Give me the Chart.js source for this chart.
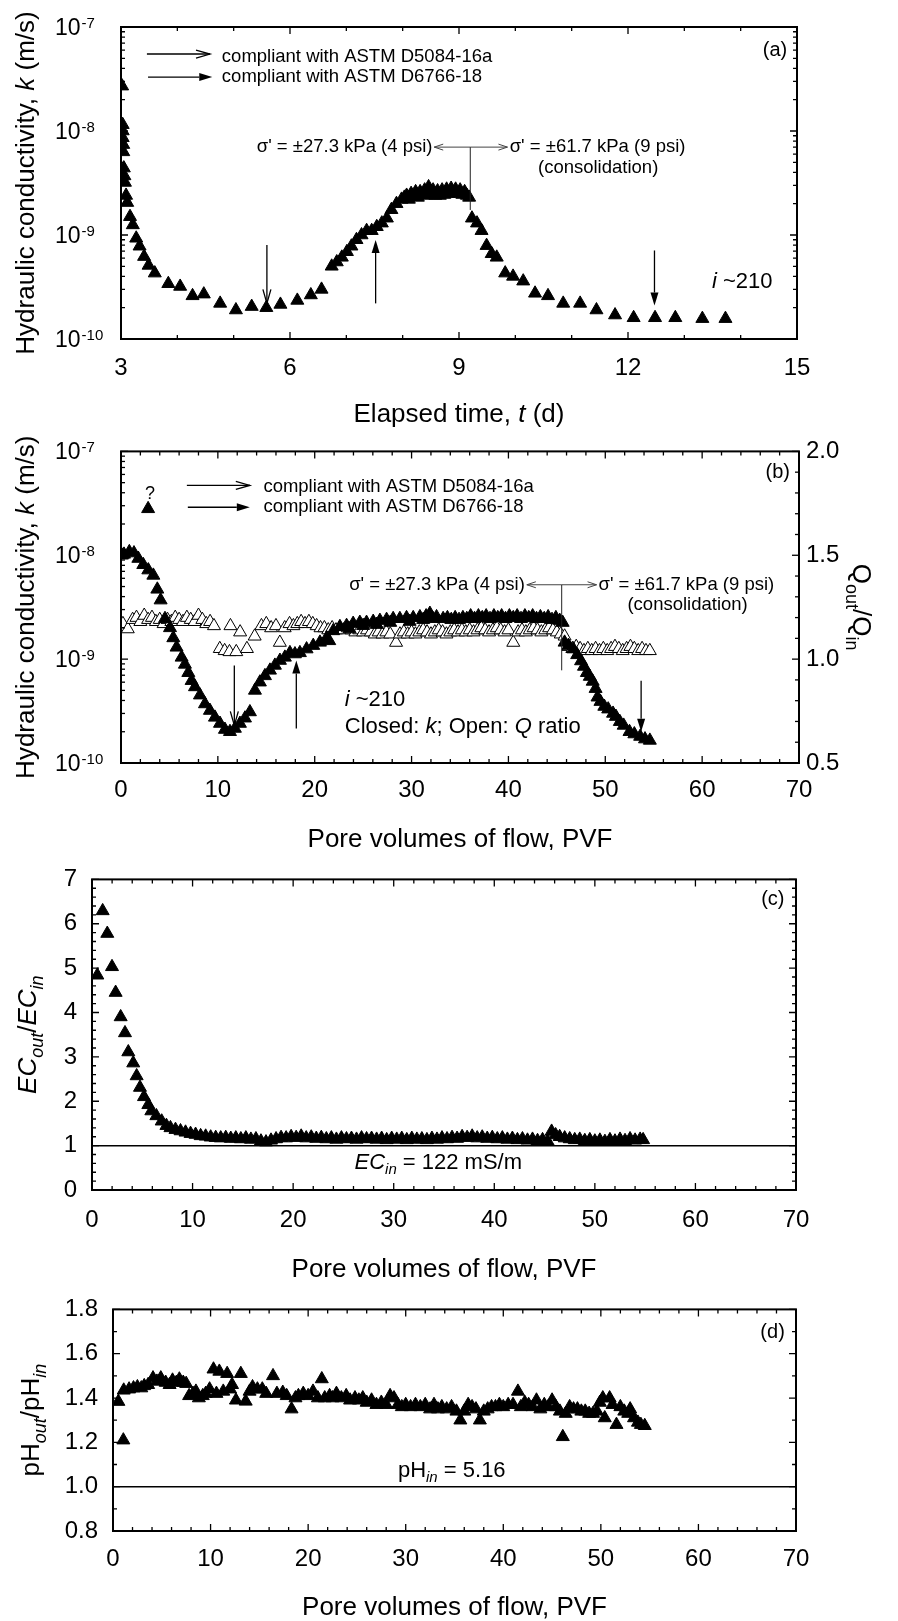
<!DOCTYPE html>
<html>
<head>
<meta charset="utf-8">
<script src="https://cdn.jsdelivr.net/npm/chart.js@4.4.1/dist/chart.umd.min.js"></script>
<style>
  body { margin: 0; background: #fff; width: 898px; height: 1621px; position: relative; overflow: hidden; }
  canvas { position: absolute; left: 0; }
</style>
</head>
<body>
<canvas id="cA" width="898" height="430" style="top:0px"></canvas>
<canvas id="cB" width="898" height="420" style="top:430px"></canvas>
<canvas id="cC" width="898" height="430" style="top:850px"></canvas>
<canvas id="cD" width="898" height="341" style="top:1280px"></canvas>
<script>
// tick values
const timeTicks = [3, 6, 9, 12, 15];
const pvfTicks = [0, 10, 20, 30, 40, 50, 60, 70];
const kTicks = [1e-10, 1e-9, 1e-8, 1e-7];
const qTicks = [0.5, 1.0, 1.5, 2.0];
const ecTicks = [0, 1, 2, 3, 4, 5, 6, 7];
const phTicks = [0.8, 1.0, 1.2, 1.4, 1.6, 1.8];

// (a) hydraulic conductivity vs elapsed time [t (d), k (m/s)]
const kVsTime = [
  [3.02,2.7e-8],[3.03,1.15e-8],[3.03,1.0e-8],[3.03,8.6e-9],[3.04,7.4e-9],[3.04,6.3e-9],[3.05,4.4e-9],[3.06,3.7e-9],
  [3.07,3.2e-9],[3.09,2.4e-9],[3.11,2.05e-9],[3.16,1.5e-9],[3.21,1.25e-9],[3.27,9.3e-10],[3.33,7.8e-10],[3.41,6.2e-10],
  [3.49,5.1e-10],[3.60,4.3e-10],[3.84,3.4e-10],[4.05,3.2e-10],[4.27,2.6e-10],[4.47,2.7e-10],[4.76,2.2e-10],[5.04,1.9e-10],
  [5.32,2.05e-10],[5.58,2.0e-10],[5.83,2.15e-10],[6.13,2.35e-10],[6.37,2.65e-10],[6.56,3.0e-10],[6.74,5.0e-10],[6.83,5.5e-10],
  [6.92,6.1e-10],[7.01,6.9e-10],[7.09,7.8e-10],[7.18,9.0e-10],[7.27,1.0e-9],[7.36,1.1e-9],[7.45,1.1e-9],[7.54,1.2e-9],
  [7.63,1.3e-9],[7.72,1.45e-9],[7.80,1.75e-9],[7.89,2.0e-9],[7.98,2.2e-9],
  [8.03,2.3e-9],[8.07,2.4e-9],[8.11,2.2e-9],[8.15,2.5e-9],[8.19,2.35e-9],[8.23,2.6e-9],[8.27,2.3e-9],[8.31,2.6e-9],
  [8.35,2.45e-9],[8.39,2.7e-9],[8.43,2.4e-9],[8.46,2.9e-9],[8.50,2.5e-9],[8.54,2.7e-9],[8.58,2.4e-9],[8.62,2.65e-9],
  [8.66,2.4e-9],[8.70,2.7e-9],[8.74,2.45e-9],[8.78,2.75e-9],[8.82,2.5e-9],[8.86,2.8e-9],[8.90,2.55e-9],[8.94,2.75e-9],
  [8.98,2.5e-9],[9.02,2.7e-9],[9.06,2.45e-9],[9.10,2.6e-9],[9.14,2.4e-9],[9.18,2.3e-9],
  [9.23,1.45e-9],[9.32,1.3e-9],[9.40,1.1e-9],[9.49,7.9e-10],[9.58,6.6e-10],[9.67,6.1e-10],[9.82,4.3e-10],[9.96,4.0e-10],
  [10.14,3.6e-10],[10.35,2.75e-10],[10.58,2.6e-10],[10.85,2.2e-10],[11.15,2.2e-10],[11.44,1.9e-10],[11.77,1.7e-10],
  [12.10,1.6e-10],[12.48,1.6e-10],[12.84,1.6e-10],[13.32,1.57e-10],[13.73,1.57e-10]
];

// (b) k vs pore volumes of flow [PVF, k (m/s)]
const kVsPvf = [
  [0.1,1.0e-8],[0.31,1.02e-8],[0.86,1.08e-8],[1.34,1.05e-8],[1.79,9.3e-9],[2.30,8.1e-9],[2.8,2.8e-8],[2.82,7.2e-9],
  [3.34,6.4e-9],[3.75,4.7e-9],[4.09,3.7e-9],[4.54,2.45e-9],[5.06,2.0e-9],[5.40,1.6e-9],[5.74,1.3e-9],[6.26,1.04e-9],
  [6.60,8.9e-10],[6.95,7.4e-10],[7.29,6.2e-10],[7.64,5.4e-10],[8.15,4.5e-10],[8.67,3.7e-10],[9.18,3.2e-10],[9.70,2.75e-10],
  [10.22,2.4e-10],[10.73,2.1e-10],[11.25,2.0e-10],[11.76,2.15e-10],[12.28,2.4e-10],[12.80,2.7e-10],[13.31,3.1e-10],
  [13.83,5.0e-10],[14.34,6.0e-10],[14.86,6.9e-10],[15.38,7.8e-10],[15.89,8.7e-10],[16.41,9.7e-10],[16.92,1.04e-9],
  [17.44,1.15e-9],[17.96,1.12e-9],[18.47,1.15e-9],[19.16,1.25e-9],[19.85,1.35e-9],[20.54,1.45e-9],[21.23,1.6e-9],
  [21.5,1.5e-9],[21.91,1.87e-9],[22.60,2.05e-9],[23.29,2.1e-9],[23.6,1.95e-9],[23.97,2.2e-9],[24.66,2.25e-9],[25.0,2.1e-9],
  [25.35,2.25e-9],[26.04,2.3e-9],[26.4,2.15e-9],[26.73,2.35e-9],[27.42,2.4e-9],[27.8,2.25e-9],[28.10,2.45e-9],
  [28.79,2.45e-9],[29.48,2.5e-9],[29.8,2.3e-9],[30.17,2.5e-9],[30.86,2.55e-9],[31.2,2.4e-9],[31.5,2.6e-9],[31.89,2.75e-9],
  [32.2,2.45e-9],[32.58,2.55e-9],[33.26,2.45e-9],
  [33.7,2.5e-9],[34.1,2.4e-9],[34.5,2.5e-9],[34.9,2.4e-9],[35.3,2.5e-9],[35.7,2.45e-9],[36.1,2.6e-9],[36.5,2.45e-9],
  [36.9,2.6e-9],[37.3,2.5e-9],[37.7,2.6e-9],[38.1,2.45e-9],[38.5,2.6e-9],[38.9,2.5e-9],[39.3,2.6e-9],[39.7,2.45e-9],
  [40.1,2.6e-9],[40.5,2.5e-9],[40.9,2.6e-9],[41.3,2.45e-9],[41.7,2.6e-9],[42.1,2.5e-9],[42.5,2.6e-9],[42.9,2.45e-9],
  [43.3,2.55e-9],[43.7,2.45e-9],[44.1,2.55e-9],[44.5,2.4e-9],[44.9,2.5e-9],[45.3,2.35e-9],[45.6,2.25e-9],
  [45.8,1.45e-9],[46.2,1.35e-9],[46.7,1.25e-9],[47.1,1.1e-9],[47.5,9.6e-10],[47.8,8.5e-10],[48.1,7.4e-10],[48.4,6.8e-10],
  [48.7,6.1e-10],[49.0,5.2e-10],[49.2,4.3e-10],[49.5,3.9e-10],[49.9,3.5e-10],[50.3,3.3e-10],[50.8,3.0e-10],[51.1,2.8e-10],
  [51.5,2.5e-10],[51.9,2.3e-10],[52.5,2.0e-10],[53.0,1.9e-10],[53.6,1.8e-10],[54.1,1.7e-10],[54.6,1.65e-10]
];

// (b) outflow / inflow ratio [PVF, Qout/Qin]
const qRatioVsPvf = [
  [0.2,1.17],[0.7,1.145],[1.2,1.19],[1.6,1.20],[2.0,1.18],[2.4,1.21],[2.8,1.19],[3.2,1.20],[3.6,1.18],[4.0,1.19],
  [4.4,1.17],[4.8,1.19],[5.2,1.18],[5.6,1.20],[6.0,1.19],[6.4,1.18],[6.8,1.20],[7.2,1.19],[7.6,1.18],[8.0,1.21],
  [8.4,1.19],[8.8,1.17],[9.2,1.18],[9.6,1.16],[10.2,1.05],[10.7,1.04],[11.2,1.035],[11.3,1.16],[11.9,1.035],[12.3,1.13],
  [13.0,1.05],[13.8,1.11],[14.5,1.16],[15.0,1.17],[15.5,1.15],[16.0,1.16],[16.4,1.08],[16.9,1.15],[17.4,1.17],[17.8,1.16],
  [18.2,1.17],[18.6,1.18],[19.0,1.17],[19.4,1.18],[19.8,1.17],[20.2,1.16],[20.6,1.15],[21.0,1.15],[21.4,1.14],[21.8,1.15],
  [22.2,1.14],[22.6,1.15],[23.0,1.14],[23.4,1.15],[23.8,1.14],[24.2,1.13],[24.6,1.14],[25.0,1.13],[25.4,1.14],[25.8,1.13],
  [26.2,1.12],[26.6,1.13],[27.0,1.12],[27.4,1.13],[27.8,1.12],[28.4,1.08],[28.8,1.12],[29.2,1.13],[29.6,1.12],[30.0,1.13],
  [30.4,1.12],[30.8,1.13],[31.2,1.14],[31.6,1.13],[32.0,1.12],[32.4,1.13],[32.8,1.14],[33.2,1.13],[33.6,1.12],[34.0,1.13],
  [34.4,1.14],[34.8,1.13],[35.2,1.14],[35.6,1.13],[36.0,1.14],[36.4,1.13],[36.8,1.14],[37.2,1.15],[37.6,1.14],[38.0,1.13],
  [38.4,1.14],[38.8,1.15],[39.2,1.14],[39.6,1.13],[40.0,1.14],[40.5,1.08],[41.0,1.13],[41.4,1.14],[41.8,1.13],[42.2,1.14],
  [42.6,1.15],[43.0,1.14],[43.4,1.13],[43.8,1.14],[44.2,1.15],[44.6,1.14],[45.0,1.13],[45.4,1.12],[45.8,1.11],[46.2,1.06],
  [46.6,1.05],[47.0,1.06],[47.4,1.05],[47.8,1.04],[48.2,1.05],[48.6,1.04],[49.0,1.05],[49.4,1.04],[49.8,1.05],[50.2,1.04],
  [50.6,1.05],[51.0,1.06],[51.4,1.05],[51.8,1.04],[52.2,1.05],[52.6,1.06],[53.0,1.05],[53.4,1.04],[53.8,1.05],[54.2,1.04],
  [54.6,1.04]
];

// (c) electrical conductivity ratio [PVF, ECout/ECin]
const ecRatioVsPvf = [
  [0.53,4.84],[1.06,6.29],[1.52,5.78],[1.99,5.03],[2.35,4.45],[2.85,3.90],[3.28,3.54],[3.61,3.11],[4.10,2.86],[4.44,2.57],
  [4.77,2.31],[5.17,2.10],[5.60,1.92],[5.90,1.78],[6.40,1.67],[6.93,1.55],[7.40,1.45],[7.80,1.40],[8.30,1.36],[8.80,1.33],
  [9.30,1.30],[9.80,1.27],[10.3,1.25],[10.8,1.22],[11.3,1.21],[11.8,1.19],[12.3,1.18],[12.8,1.17],[13.3,1.18],[13.8,1.16],
  [14.3,1.17],[14.8,1.15],[15.3,1.17],[15.8,1.14],[16.3,1.15],[16.8,1.10],[17.3,1.08],[17.8,1.12],[18.3,1.15],[18.8,1.18],
  [19.3,1.17],[19.8,1.20],[20.3,1.18],[20.8,1.21],[21.3,1.17],[21.8,1.19],[22.3,1.16],[22.8,1.18],[23.3,1.15],[23.8,1.17],
  [24.3,1.14],[24.8,1.17],[25.3,1.15],[25.8,1.16],[26.3,1.14],[26.8,1.17],[27.3,1.15],[27.8,1.16],[28.3,1.14],[28.8,1.16],
  [29.3,1.13],[29.8,1.16],[30.3,1.14],[30.8,1.16],[31.3,1.13],[31.8,1.16],[32.3,1.14],[32.8,1.15],[33.3,1.13],[33.8,1.16],
  [34.3,1.14],[34.8,1.17],[35.3,1.15],[35.8,1.18],[36.3,1.16],[36.8,1.20],[37.3,1.18],[37.8,1.21],[38.3,1.17],[38.8,1.19],
  [39.3,1.16],[39.8,1.18],[40.3,1.15],[40.8,1.17],[41.3,1.14],[41.8,1.16],[42.3,1.13],[42.8,1.15],[43.3,1.12],[43.8,1.14],
  [44.3,1.11],[44.8,1.13],[45.3,1.10],[45.7,1.32],[46.1,1.24],[46.5,1.20],[47.0,1.17],[47.5,1.15],[48.0,1.13],[48.5,1.14],
  [49.0,1.11],[49.5,1.13],[50.0,1.10],[50.5,1.12],[51.0,1.09],[51.5,1.13],[52.0,1.10],[52.5,1.14],[53.0,1.11],[53.5,1.15],
  [54.0,1.12],[54.5,1.14],[54.8,1.13]
];
const ecBaseline = 1;

// (d) pH ratio [PVF, pHout/pHin]
const phRatioVsPvf = [
  [0.55,1.384],[1.06,1.21],[1.1,1.435],[1.65,1.44],[2.1,1.445],[2.5,1.45],[2.9,1.445],[3.2,1.455],[3.6,1.46],[4.1,1.49],
  [4.5,1.475],[4.9,1.49],[5.4,1.47],[5.8,1.46],[6.1,1.48],[6.5,1.47],[6.8,1.485],[7.2,1.47],[7.5,1.465],[7.8,1.41],
  [8.2,1.42],[8.5,1.43],[8.8,1.40],[9.2,1.41],[9.5,1.42],[9.9,1.44],[10.3,1.53],[10.6,1.42],[10.9,1.52],[11.3,1.43],
  [11.7,1.51],[12.0,1.44],[12.2,1.46],[12.6,1.39],[13.1,1.51],[13.6,1.385],[14.0,1.43],[14.3,1.45],[14.8,1.44],[15.3,1.44],
  [15.7,1.42],[16.4,1.50],[16.8,1.42],[17.4,1.425],[17.8,1.41],[18.3,1.35],[18.7,1.40],[19.0,1.41],[19.5,1.42],[20.0,1.41],
  [20.5,1.43],[21.0,1.40],[21.4,1.486],[21.7,1.40],[22.2,1.41],[22.5,1.40],[22.9,1.42],[23.4,1.40],[23.9,1.41],[24.3,1.39],
  [24.8,1.40],[25.2,1.39],[25.6,1.40],[26.0,1.38],[26.5,1.39],[27.0,1.37],[27.5,1.38],[28.0,1.37],[28.4,1.41],[28.8,1.40],
  [29.2,1.37],[29.6,1.36],[30.0,1.37],[30.5,1.36],[31.0,1.37],[31.5,1.36],[32.0,1.37],[32.5,1.35],[32.9,1.37],[33.3,1.35],
  [33.7,1.36],[34.2,1.35],[34.7,1.36],[35.2,1.34],[35.6,1.30],[36.0,1.34],[36.4,1.37],[36.8,1.36],[37.2,1.35],[37.6,1.30],
  [38.0,1.34],[38.4,1.35],[38.8,1.36],[39.2,1.36],[39.6,1.37],[40.0,1.36],[40.5,1.37],[41.0,1.37],[41.5,1.43],[41.8,1.36],
  [42.2,1.38],[42.6,1.37],[43.0,1.36],[43.4,1.39],[43.8,1.35],[44.2,1.37],[44.6,1.36],[45.0,1.39],[45.4,1.36],[45.8,1.34],
  [46.1,1.225],[46.4,1.33],[46.8,1.36],[47.2,1.35],[47.6,1.35],[48.0,1.34],[48.4,1.34],[48.8,1.33],[49.2,1.33],[49.6,1.34],
  [49.9,1.38],[50.2,1.40],[50.4,1.31],[50.9,1.40],[51.2,1.37],[51.6,1.28],[52.0,1.36],[52.4,1.34],[52.8,1.33],[53.0,1.35],
  [53.4,1.31],[53.8,1.29],[54.1,1.28],[54.5,1.275]
];
const phBaseline = 1;

const FONT = '"Liberation Sans", Arial, Helvetica, sans-serif';
const W = 898;

const pts = arr => arr.map(([x, y]) => ({ x, y }));
const filledTri = { pointStyle: 'triangle', pointRadius: 7.5, backgroundColor: '#000', borderColor: '#000', borderWidth: 1 };
const openTri = { pointStyle: 'triangle', pointRadius: 7.5, backgroundColor: '#fff', borderColor: '#000', borderWidth: 1 };

function minorsLinear(min, max, step, majors) {
  const out = [];
  for (let v = min; v <= max + 1e-9; v += step) {
    const r = Math.round(v * 1000) / 1000;
    if (!majors.some(m => Math.abs(m - r) < 1e-6)) out.push(r);
  }
  return out;
}
function minorsLog(majors) {
  const out = [];
  for (let i = 0; i < majors.length - 1; i++) for (let k = 2; k < 10; k++) out.push(k * majors[i]);
  return out;
}

// ---- drawing helpers ----
function frame(ctx, a) {
  ctx.save(); ctx.strokeStyle = '#000'; ctx.lineWidth = 2;
  ctx.strokeRect(a.left, a.top, a.right - a.left, a.bottom - a.top);
  ctx.restore();
}
function marks(ctx, scale, a, majors, minors, sides) {
  ctx.save(); ctx.strokeStyle = '#000'; ctx.lineWidth = 1.3;
  const one = (v, len) => {
    const p = scale.getPixelForValue(v);
    ctx.beginPath();
    if (sides.includes('b')) { ctx.moveTo(p, a.bottom); ctx.lineTo(p, a.bottom - len); }
    if (sides.includes('t')) { ctx.moveTo(p, a.top); ctx.lineTo(p, a.top + len); }
    if (sides.includes('l')) { ctx.moveTo(a.left, p); ctx.lineTo(a.left + len, p); }
    if (sides.includes('r')) { ctx.moveTo(a.right, p); ctx.lineTo(a.right - len, p); }
    ctx.stroke();
  };
  majors.forEach(v => one(v, 7));
  minors.forEach(v => one(v, 4));
  ctx.restore();
}
function logLabels(ctx, ys, a) {
  ctx.save(); ctx.fillStyle = '#000'; ctx.textAlign = 'left'; ctx.textBaseline = 'alphabetic';
  kTicks.forEach(v => {
    const y = ys.getPixelForValue(v);
    const e = String(Math.round(Math.log10(v)));
    const x0 = a.left - 66;
    ctx.font = `23px ${FONT}`;
    ctx.fillText('10', x0, y + 8);
    const w = ctx.measureText('10').width;
    ctx.font = `15px ${FONT}`;
    ctx.fillText(e, x0 + w + 1, y + 0.5);
  });
  ctx.restore();
}
function txt(ctx, s, x, y, size, align) {
  ctx.save(); ctx.fillStyle = '#000';
  ctx.font = `${size}px ${FONT}`; ctx.textAlign = align || 'left'; ctx.textBaseline = 'middle';
  ctx.fillText(s, x, y);
  ctx.restore();
}
// parts: [text, style]  style: 'n' normal, 'i' italic, 's' subscript, 'is' italic subscript
function rich(ctx, parts, x, yMid, size, align) {
  ctx.save(); ctx.fillStyle = '#000'; ctx.textAlign = 'left'; ctx.textBaseline = 'alphabetic';
  let w = 0;
  const m = parts.map(([t, st]) => {
    const sub = st.includes('s');
    const f = `${st.includes('i') ? 'italic ' : ''}${sub ? Math.round(size * 0.68) : size}px ${FONT}`;
    ctx.font = f;
    const tw = ctx.measureText(t).width; w += tw;
    return { t, f, tw, dy: sub ? size * 0.25 : 0 };
  });
  let cx = align === 'center' ? x - w / 2 : align === 'right' ? x - w : x;
  const base = yMid + size * 0.35;
  m.forEach(p => { ctx.font = p.f; ctx.fillText(p.t, cx, base + p.dy); cx += p.tw; });
  ctx.restore();
}
function vtitle(ctx, parts, x, y, size, dir) {
  ctx.save(); ctx.translate(x, y); ctx.rotate(dir * Math.PI / 2);
  rich(ctx, parts, 0, 0, size, 'center');
  ctx.restore();
}
function arrow(ctx, x1, y1, x2, y2, head, opt) {
  const o = Object.assign({ len: 12, hw: 4, color: '#000', lw: 1.3 }, opt || {});
  ctx.save(); ctx.strokeStyle = o.color; ctx.fillStyle = o.color; ctx.lineWidth = o.lw;
  const ang = Math.atan2(y2 - y1, x2 - x1), c = Math.cos(ang), s = Math.sin(ang);
  const bx = x2 - c * o.len, by = y2 - s * o.len;
  const lx = bx - s * o.hw, ly = by + c * o.hw, rx = bx + s * o.hw, ry = by - c * o.hw;
  ctx.beginPath(); ctx.moveTo(x1, y1);
  if (head === 'filled') ctx.lineTo(bx, by); else ctx.lineTo(x2, y2);
  ctx.stroke();
  if (head === 'filled') {
    ctx.beginPath(); ctx.moveTo(x2, y2); ctx.lineTo(lx, ly); ctx.lineTo(rx, ry); ctx.closePath(); ctx.fill();
  } else if (head === 'open') {
    ctx.beginPath(); ctx.moveTo(lx, ly); ctx.lineTo(x2, y2); ctx.lineTo(rx, ry); ctx.stroke();
  }
  ctx.restore();
}

// ---- scale builders ----
function xAxis(min, max, ticks, h, pad) {
  return {
    type: 'linear', min, max,
    afterBuildTicks: s => { s.ticks = ticks.map(v => ({ value: v })); },
    afterFit: s => { s.height = h; },
    grid: { display: false, drawTicks: false }, border: { display: false },
    ticks: { color: '#000', font: { family: FONT, size: 24 }, padding: pad, maxRotation: 0, autoSkip: false }
  };
}
function yLinear(min, max, ticks, w, pad, digits, position) {
  return {
    type: 'linear', min, max, position: position || 'left',
    afterBuildTicks: s => { s.ticks = ticks.map(v => ({ value: v })); },
    afterFit: s => { s.width = w; },
    grid: { display: false, drawTicks: false }, border: { display: false },
    ticks: { color: '#000', font: { family: FONT, size: 24 }, padding: pad, autoSkip: false,
      callback: v => Number(v).toFixed(digits) }
  };
}
function yLog(w) {
  return {
    type: 'logarithmic', min: 1e-10, max: 1e-7,
    afterFit: s => { s.width = w; },
    grid: { display: false, drawTicks: false }, border: { display: false },
    ticks: { display: false }
  };
}
function makeChart(id, padTop, padRight, scales, datasets, deco) {
  return new Chart(document.getElementById(id), {
    type: 'scatter',
    data: { datasets },
    options: {
      responsive: false, maintainAspectRatio: false, animation: false,
      layout: { padding: { top: padTop, right: padRight, left: 0, bottom: 0 } },
      plugins: { legend: { display: false }, tooltip: { enabled: false } },
      scales
    },
    plugins: [{ id: 'deco_' + id, afterDatasetsDraw: ch => deco(ch) }]
  });
}

// ---- (a) ----
makeChart('cA', 27, W - 797,
  { x: xAxis(3, 15, timeTicks, 430 - 339, 15), y: yLog(121) },
  [Object.assign({ data: pts(kVsTime) }, filledTri)],
  ch => {
    const ctx = ch.ctx, a = ch.chartArea, xs = ch.scales.x, ys = ch.scales.y;
    const X = v => xs.getPixelForValue(v), Y = v => ys.getPixelForValue(v);
    frame(ctx, a);
    marks(ctx, xs, a, timeTicks, minorsLinear(3, 15, 1, timeTicks), 'bt');
    marks(ctx, ys, a, kTicks, minorsLog(kTicks), 'lr');
    logLabels(ctx, ys, a);
    rich(ctx, [['Elapsed time, ', 'n'], ['t', 'i'], [' (d)', 'n']], (a.left + a.right) / 2, a.bottom + 74, 26, 'center');
    vtitle(ctx, [['Hydraulic conductivity, ', 'n'], ['k', 'i'], [' (m/s)', 'n']], 25, (a.top + a.bottom) / 2, 26, -1);
    arrow(ctx, X(3.46), Y(5.5e-8), X(4.58), Y(5.5e-8), 'open', { len: 14, hw: 4 });
    txt(ctx, 'compliant with ASTM D5084-16a', X(4.79), Y(5.2e-8), 18.5);
    arrow(ctx, X(3.48), Y(3.3e-8), X(4.62), Y(3.3e-8), 'filled', { len: 13, hw: 4 });
    txt(ctx, 'compliant with ASTM D6766-18', X(4.79), Y(3.3e-8), 18.5);
    txt(ctx, "\u03c3' = \u00b127.3 kPa (4 psi)", X(8.53), Y(7.0e-9), 18.5, 'right');
    arrow(ctx, X(9.2), Y(7.0e-9), X(8.56), Y(7.0e-9), 'open', { len: 9, hw: 3, lw: 1, color: '#444' });
    arrow(ctx, X(9.2), Y(7.0e-9), X(9.86), Y(7.0e-9), 'open', { len: 9, hw: 3, lw: 1, color: '#444' });
    arrow(ctx, X(9.2), Y(7.0e-9), X(9.2), Y(1.74e-9), 'none', { lw: 1, color: '#222' });
    txt(ctx, "\u03c3' = \u00b161.7 kPa (9 psi)", X(9.9), Y(7.0e-9), 18.5);
    txt(ctx, '(consolidation)', X(11.47), Y(4.4e-9), 18.5, 'center');
    arrow(ctx, X(5.59), Y(8.0e-10), X(5.59), Y(2.2e-10), 'open', { len: 14, hw: 4 });
    arrow(ctx, X(7.52), Y(2.2e-10), X(7.52), Y(8.95e-10), 'filled', { len: 13, hw: 4 });
    arrow(ctx, X(12.47), Y(7.1e-10), X(12.47), Y(2.1e-10), 'filled', { len: 13, hw: 4 });
    txt(ctx, '(a)', X(14.61), Y(6.0e-8), 20, 'center');
    rich(ctx, [['i', 'i'], [' ~210', 'n']], X(13.49), Y(3.7e-10), 22, 'left');
  });

// ---- (b) ----
makeChart('cB', 19, 0,
  { x: xAxis(0, 70, pvfTicks, 420 - 333, 13), y: yLog(121),
    y2: yLinear(0.5, 2.0, qTicks, W - 799, 7, 1, 'right') },
  [Object.assign({ data: pts(kVsPvf), yAxisID: 'y' }, filledTri),
   Object.assign({ data: pts(qRatioVsPvf), yAxisID: 'y2' }, openTri)],
  ch => {
    const ctx = ch.ctx, a = ch.chartArea, xs = ch.scales.x, ys = ch.scales.y, q = ch.scales.y2;
    const X = v => xs.getPixelForValue(v), Y = v => ys.getPixelForValue(v);
    frame(ctx, a);
    marks(ctx, xs, a, pvfTicks, minorsLinear(0, 70, 2, pvfTicks), 'bt');
    marks(ctx, ys, a, kTicks, minorsLog(kTicks), 'l');
    marks(ctx, q, a, qTicks, minorsLinear(0.5, 2.0, 0.1, qTicks), 'r');
    logLabels(ctx, ys, a);
    rich(ctx, [['Pore volumes of flow, PVF', 'n']], (a.left + a.right) / 2, a.bottom + 75, 26, 'center');
    vtitle(ctx, [['Hydraulic conductivity, ', 'n'], ['k', 'i'], [' (m/s)', 'n']], 25, (a.top + a.bottom) / 2, 26, -1);
    vtitle(ctx, [['Q', 'n'], ['out', 's'], ['/Q', 'n'], ['in', 's']], 862, (a.top + a.bottom) / 2, 26, 1);
    txt(ctx, '?', X(3.0), Y(3.9e-8), 18, 'center');
    arrow(ctx, X(6.8), Y(4.7e-8), X(13.3), Y(4.7e-8), 'open', { len: 14, hw: 4 });
    txt(ctx, 'compliant with ASTM D5084-16a', X(14.7), Y(4.6e-8), 18.5);
    arrow(ctx, X(6.9), Y(2.9e-8), X(13.3), Y(2.9e-8), 'filled', { len: 13, hw: 4 });
    txt(ctx, 'compliant with ASTM D6766-18', X(14.7), Y(2.9e-8), 18.5);
    txt(ctx, '(b)', X(67.8), Y(6.3e-8), 20, 'center');
    txt(ctx, "\u03c3' = \u00b127.3 kPa (4 psi)", X(41.7), Y(5.2e-9), 18.5, 'right');
    arrow(ctx, X(45.5), Y(5.2e-9), X(41.9), Y(5.2e-9), 'open', { len: 9, hw: 3, lw: 1, color: '#444' });
    arrow(ctx, X(45.5), Y(5.2e-9), X(49.1), Y(5.2e-9), 'open', { len: 9, hw: 3, lw: 1, color: '#444' });
    arrow(ctx, X(45.5), Y(5.2e-9), X(45.5), Y(7.8e-10), 'none', { lw: 1, color: '#222' });
    txt(ctx, "\u03c3' = \u00b161.7 kPa (9 psi)", X(49.3), Y(5.2e-9), 18.5);
    txt(ctx, '(consolidation)', X(58.5), Y(3.36e-9), 18.5, 'center');
    arrow(ctx, X(11.7), Y(8.7e-10), X(11.7), Y(2.3e-10), 'open', { len: 14, hw: 4 });
    arrow(ctx, X(18.1), Y(2.15e-10), X(18.1), Y(9.7e-10), 'filled', { len: 13, hw: 4 });
    arrow(ctx, X(53.7), Y(6.2e-10), X(53.7), Y(2.0e-10), 'filled', { len: 13, hw: 4 });
    rich(ctx, [['i', 'i'], [' ~210', 'n']], X(23.1), Y(4.2e-10), 22, 'left');
    rich(ctx, [['Closed: ', 'n'], ['k', 'i'], ['; Open: ', 'n'], ['Q', 'i'], [' ratio', 'n']], X(23.1), Y(2.3e-10), 22, 'left');
  });

// ---- (c) ----
makeChart('cC', 17, W - 796,
  { x: xAxis(0, 70, pvfTicks, 430 - 340, 16), y: yLinear(0, 7, ecTicks, 92, 15, 0) },
  [Object.assign({ data: pts(ecRatioVsPvf) }, filledTri),
   { data: [{ x: 0, y: ecBaseline }, { x: 70, y: ecBaseline }], showLine: true, pointRadius: 0, borderColor: '#000', borderWidth: 1.5 }],
  ch => {
    const ctx = ch.ctx, a = ch.chartArea, xs = ch.scales.x, ys = ch.scales.y;
    const X = v => xs.getPixelForValue(v), Y = v => ys.getPixelForValue(v);
    frame(ctx, a);
    marks(ctx, xs, a, pvfTicks, minorsLinear(0, 70, 2, pvfTicks), 'bt');
    marks(ctx, ys, a, ecTicks, minorsLinear(0, 7, 0.2, ecTicks), 'lr');
    rich(ctx, [['Pore volumes of flow, PVF', 'n']], (a.left + a.right) / 2, a.bottom + 78, 26, 'center');
    vtitle(ctx, [['EC', 'i'], ['out', 'is'], ['/', 'n'], ['EC', 'i'], ['in', 'is']], 27, (a.top + a.bottom) / 2, 26, -1);
    txt(ctx, '(c)', X(67.7), Y(6.55), 20, 'center');
    rich(ctx, [['EC', 'i'], ['in', 'is'], [' = 122 mS/m', 'n']], X(26.1), Y(0.65), 22, 'left');
  });

// ---- (d) ----
makeChart('cD', 21, W - 796,
  { x: xAxis(0, 70, pvfTicks, 341 - 251, 14), y: yLinear(0.8, 1.8, phTicks, 113, 15, 1) },
  [Object.assign({ data: pts(phRatioVsPvf) }, filledTri),
   { data: [{ x: 0, y: phBaseline }, { x: 70, y: phBaseline }], showLine: true, pointRadius: 0, borderColor: '#000', borderWidth: 1.5 }],
  ch => {
    const ctx = ch.ctx, a = ch.chartArea, xs = ch.scales.x, ys = ch.scales.y;
    const X = v => xs.getPixelForValue(v), Y = v => ys.getPixelForValue(v);
    frame(ctx, a);
    marks(ctx, xs, a, pvfTicks, minorsLinear(0, 70, 2, pvfTicks), 'bt');
    marks(ctx, ys, a, phTicks, minorsLinear(0.8, 1.8, 0.1, phTicks), 'lr');
    rich(ctx, [['Pore volumes of flow, PVF', 'n']], (a.left + a.right) / 2, a.bottom + 75, 26, 'center');
    vtitle(ctx, [['pH', 'n'], ['out', 'is'], ['/pH', 'n'], ['in', 'is']], 30, (a.top + a.bottom) / 2, 26, -1);
    txt(ctx, '(d)', X(67.6), Y(1.696), 20, 'center');
    rich(ctx, [['pH', 'n'], ['in', 'is'], [' = 5.16', 'n']], X(29.2), Y(1.08), 22, 'left');
  });
</script>
</body>
</html>
